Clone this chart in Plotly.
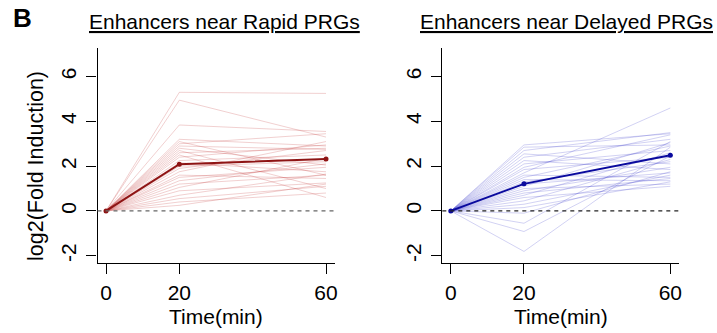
import plotly.graph_objects as go

W, H = 717, 333

time_points = [0, 20, 60]
x_ticks = [0, 20, 60]
y_ticks = [-2, 0, 2, 4, 6]

panel_titles = ["Enhancers near Rapid PRGs", "Enhancers near Delayed PRGs"]
x_title = "Time(min)"
y_title = "log2(Fold Induction)"
panel_letter = "B"

rapid_20 = [5.30, 4.95, 3.84, 3.20, 3.10, 3.00, 2.90, 2.80, 2.70, 2.60, 2.50, 2.40, 2.25, 2.15,
            2.00, 1.90, 1.75, 1.60, 1.50, 1.35, 1.20, 1.05, 0.90, 0.70, 0.55, 0.40, 0.25]
rapid_60 = [5.25, 3.30, 3.55, 2.90, 1.60, 3.45, 2.75, 2.05, 1.00, 2.80, 0.60, 2.95, 2.50, 1.75,
            2.20, 2.70, 3.10, 1.45, 1.95, 2.10, 1.60, 2.35, 1.25, 1.65, 1.10, 0.80, 1.20]
rapid_mean = [0, 2.09, 2.32]

delayed_20 = [2.95, 2.85, 2.70, 2.55, 2.40, 2.25, 2.10, 1.95, 1.85, 1.70, 1.60, 1.50, 1.40, 1.30,
              1.20, 1.10, 1.00, 0.90, 0.80, 0.70, 0.60, 0.45, 0.30, 0.15, -0.10, -0.55, -0.92, -1.81]
delayed_60 = [3.45, 2.95, 3.50, 2.10, 3.20, 1.85, 2.70, 3.40, 2.40, 4.60, 1.50, 2.90, 1.35, 2.20,
              1.70, 3.05, 1.20, 1.95, 1.45, 2.60, 1.10, 2.30, 1.60, 1.30, 1.75, 3.10, 2.45, 2.85]
delayed_mean = [0, 1.21, 2.49]

FONT = "Liberation Sans, Arial, Helvetica, sans-serif"

fig = go.Figure()

panels = [
    dict(v20=rapid_20, v60=rapid_60, mean=rapid_mean, thin="rgba(190,40,40,0.22)", bold="#8E1414",
         dash="#666", xa="x", ya="y", px0=97.5, px1=335.0),
    dict(v20=delayed_20, v60=delayed_60, mean=delayed_mean, thin="rgba(50,50,200,0.22)", bold="#0A0A9E",
         dash="#222", xa="x2", ya="y2", px0=442.3, px1=679.3),
]

for p in panels:
    for a, b in zip(p["v20"], p["v60"]):
        fig.add_trace(go.Scatter(x=time_points, y=[0, a, b], mode="lines",
                                 line=dict(color=p["thin"], width=1),
                                 xaxis=p["xa"], yaxis=p["ya"], showlegend=False, hoverinfo="skip"))
    fig.add_trace(go.Scatter(x=time_points, y=p["mean"], mode="lines+markers",
                             line=dict(color=p["bold"], width=2),
                             marker=dict(color=p["bold"], size=5),
                             xaxis=p["xa"], yaxis=p["ya"], showlegend=False))

ytop_px, ybot_px = 48.0, 263.3
ydom = [1 - ybot_px / H, 1 - ytop_px / H]

axis_common = dict(showgrid=False, zeroline=False, showline=True, linecolor="black", linewidth=1.3,
                   ticks="outside", ticklen=10, tickwidth=1.2, tickcolor="black",
                   tickfont=dict(family=FONT, size=21, color="black"), automargin=False)

layout = dict(width=W, height=H, margin=dict(l=0, r=0, t=0, b=0),
              paper_bgcolor="white", plot_bgcolor="white", showlegend=False)

for i, p in enumerate(panels):
    sx = "" if i == 0 else "2"
    layout["xaxis" + sx] = dict(domain=[p["px0"] / W, p["px1"] / W], range=[-2.32, 62.45],
                                tickvals=x_ticks, ticktext=[str(t) for t in x_ticks],
                                anchor="y" + sx, ticklabelstandoff=0, **axis_common)
    layout["yaxis" + sx] = dict(domain=ydom, range=[-2.34, 7.28], tickvals=y_ticks,
                                ticktext=[str(t) for t in y_ticks], tickangle=-90,
                                anchor="x" + sx, ticklabelstandoff=2, **axis_common)

fig.update_layout(**layout)

for i, p in enumerate(panels):
    sx = "" if i == 0 else "2"
    fig.add_shape(type="line", xref=("x" + sx + " domain"), yref=("y" + sx),
                  x0=0, x1=1, y0=0, y1=0, line=dict(color=p["dash"], width=1.3, dash="4px,4px"),
                  layer="above")

ann = []
title_x = [224.5, 566.5]
for i, t in enumerate(panel_titles):
    ann.append(dict(text="<u>" + t + "</u>", x=title_x[i] / W, y=1 - 22 / H, xref="paper", yref="paper",
                    showarrow=False, xanchor="center", yanchor="middle",
                    font=dict(family=FONT, size=21, color="black")))
    cx = (panels[i]["px0"] + panels[i]["px1"]) / 2
    ann.append(dict(text=x_title, x=cx / W, y=1 - 316 / H, xref="paper", yref="paper",
                    showarrow=False, xanchor="center", yanchor="middle",
                    font=dict(family=FONT, size=21, color="black")))
ann.append(dict(text=y_title, x=36 / W, y=1 - 166 / H, xref="paper", yref="paper", textangle=-90,
                showarrow=False, xanchor="center", yanchor="middle",
                font=dict(family=FONT, size=21.5, color="black")))
ann.append(dict(text="<b>" + panel_letter + "</b>", x=22 / W, y=1 - 18 / H, xref="paper", yref="paper",
                showarrow=False, xanchor="center", yanchor="middle",
                font=dict(family=FONT, size=26, color="black")))
fig.update_layout(annotations=ann)

fig.write_html("out.html", config={"displayModeBar": False},
               post_script="document.body.style.margin='0';document.body.style.overflow='hidden';")
